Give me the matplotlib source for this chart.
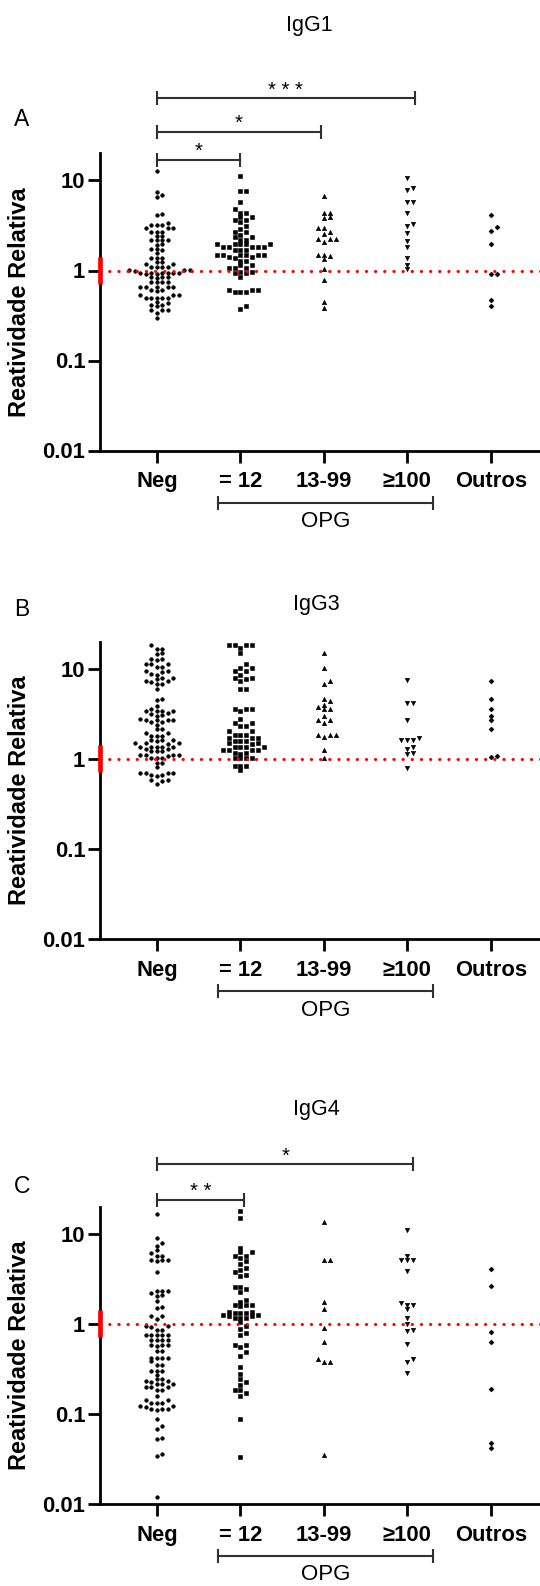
import numpy as np
import matplotlib.pyplot as plt
from matplotlib import transforms
from matplotlib.ticker import NullLocator

plt.rcParams['font.family'] = ['Liberation Sans', 'DejaVu Sans']

# categories / tick labels
categories = ['Neg', '= 12', '13-99', '≥100', 'Outros']
yticks = [0.01, 0.1, 1, 10]
ytick_labels = ['0.01', '0.1', '1', '10']

# IgG1 values
igg1_neg = [12.8, 7.4, 6.9, 6.6, 4.25, 4.1, 3.4, 3.2, 3.2, 3.2, 2.95, 2.94, 2.93,
            2.7, 2.7, 2.68, 2.44, 2.42, 2.2, 2.18, 2.17, 2.18, 1.95, 1.93, 1.72,
            1.72, 1.70, 1.55, 1.39, 1.39, 1.38, 1.25, 1.24, 1.18, 1.17, 1.10, 1.10,
            1.09, 1.10, 1.01, 1.01, 1.00, 1.01, 0.93, 0.93, 0.92, 0.93, 0.94, 0.93,
            0.92, 0.93, 0.84, 0.84, 0.83, 0.84, 0.75, 0.75, 0.74, 0.75, 0.66, 0.66,
            0.65, 0.66, 0.66, 0.60, 0.60, 0.59, 0.54, 0.54, 0.53, 0.50, 0.50, 0.49,
            0.50, 0.50, 0.45, 0.44, 0.41, 0.41, 0.40, 0.364, 0.36, 0.364, 0.334, 0.30]
igg1_12 = [11.2, 7.7, 7.6, 5.8, 4.8, 4.4, 4.4, 3.96, 3.95, 3.64, 3.62, 3.49, 3.12,
           2.87, 2.7, 2.7, 2.48, 2.38, 2.38, 2.18, 2.17, 1.97, 1.97, 1.97, 1.96,
           1.97, 1.84, 1.84, 1.84, 1.83, 1.84, 1.69, 1.69, 1.68, 1.49, 1.49, 1.49,
           1.48, 1.49, 1.49, 1.40, 1.40, 1.39, 1.28, 1.28, 1.15, 1.15, 1.06, 1.06,
           1.06, 0.97, 0.97, 0.93, 0.93, 0.85, 0.61, 0.61, 0.61, 0.57, 0.57, 0.57,
           0.40, 0.37]
igg1_1399 = [6.8, 4.4, 4.4, 3.95, 3.81, 2.94, 2.94, 2.7, 2.52, 2.26, 2.26, 2.26,
             2.09, 1.49, 1.49, 1.45, 1.33, 1.03, 0.78, 0.45, 0.38]
igg1_100 = [10.6, 8.2, 7.8, 5.8, 5.8, 4.35, 3.31, 3.1, 2.59, 2.11, 1.84, 1.39,
            1.16, 1.03]
igg1_out = [4.1, 3.02, 2.77, 1.97, 0.91, 0.91, 0.47, 0.40]

# IgG3 values
igg3_neg = [18.2, 16.8, 16.6, 14.8, 14.7, 12.7, 12.6, 12.7, 11.4, 11.4, 11.3, 10.5,
            10.5, 9.4, 9.4, 9.3, 8.65, 8.6, 7.9, 7.9, 7.8, 7.3, 7.3, 7.2, 6.7, 6.7,
            6.0, 4.56, 4.55, 3.9, 3.62, 3.44, 3.44, 3.43, 3.44, 3.19, 3.18, 3.03,
            3.02, 2.73, 2.73, 2.72, 2.73, 2.74, 2.55, 2.54, 2.4, 2.15, 2.14, 1.94,
            1.93, 1.79, 1.79, 1.78, 1.6, 1.6, 1.59, 1.6, 1.48, 1.48, 1.47, 1.48,
            1.36, 1.36, 1.35, 1.36, 1.36, 1.30, 1.30, 1.22, 1.22, 1.21, 1.09, 1.09,
            1.08, 1.09, 1.09, 1.02, 1.02, 1.01, 0.90, 0.90, 0.81, 0.70, 0.70, 0.69,
            0.70, 0.66, 0.66, 0.65, 0.58, 0.58, 0.57, 0.53]
igg3_12 = [18.6, 18.6, 18.5, 18.6, 17.1, 14.8, 11.2, 10.2, 10.2, 9.4, 9.4, 8.6,
           7.9, 7.9, 7.8, 7.3, 6.0, 6.0, 3.6, 3.6, 3.58, 3.38, 2.78, 2.51, 2.5,
           2.3, 2.3, 2.03, 2.02, 1.86, 1.86, 1.85, 1.71, 1.71, 1.70, 1.57, 1.57,
           1.56, 1.48, 1.48, 1.47, 1.36, 1.36, 1.35, 1.36, 1.25, 1.25, 1.24, 1.25,
           1.15, 1.15, 1.14, 1.03, 1.03, 1.02, 1.03, 0.84, 0.84, 0.83, 0.76]
igg3_1399 = [15.1, 10.2, 7.3, 6.8, 4.6, 4.34, 4.0, 3.78, 3.6, 3.6, 2.98, 2.73,
             2.73, 2.51, 1.86, 1.86, 1.83, 1.74, 1.24, 1.03]
igg3_100 = [7.6, 4.19, 4.19, 2.69, 1.71, 1.62, 1.6, 1.6, 1.36, 1.30, 1.17, 1.13, 0.79]
igg3_out = [7.3, 4.56, 3.62, 2.98, 2.69, 2.15, 1.04, 1.07]

# IgG4 values
igg4_neg = [16.5, 9.05, 7.8, 7.2, 6.5, 6.07, 5.7, 5.7, 5.03, 5.03, 5.0, 5.03, 3.73,
            2.32, 2.32, 2.3, 2.18, 2.06, 2.05, 1.8, 1.51, 1.5, 1.2, 1.2, 1.13, 0.93,
            0.93, 0.92, 0.855, 0.85, 0.75, 0.75, 0.74, 0.75, 0.75, 0.66, 0.66, 0.65,
            0.66, 0.58, 0.58, 0.57, 0.58, 0.50, 0.50, 0.42, 0.42, 0.41, 0.42, 0.38,
            0.35, 0.35, 0.30, 0.30, 0.30, 0.27, 0.244, 0.244, 0.228, 0.228, 0.227,
            0.213, 0.213, 0.212, 0.199, 0.199, 0.198, 0.182, 0.181, 0.155, 0.143,
            0.143, 0.131, 0.131, 0.130, 0.120, 0.120, 0.119, 0.112, 0.112, 0.111,
            0.112, 0.087, 0.072, 0.067, 0.054, 0.052, 0.036, 0.034, 0.0118]
igg4_12 = [17.7, 14.9, 6.9, 6.2, 6.2, 5.7, 5.7, 5.4, 4.9, 4.58, 4.14, 3.96, 3.73,
           3.43, 3.42, 2.52, 2.52, 2.44, 2.24, 1.84, 1.76, 1.62, 1.62, 1.61, 1.55,
           1.36, 1.36, 1.31, 1.31, 1.30, 1.25, 1.25, 1.22, 1.22, 1.15, 1.15, 1.14,
           1.04, 0.93, 0.87, 0.78, 0.74, 0.58, 0.58, 0.55, 0.48, 0.44, 0.33, 0.277,
           0.244, 0.224, 0.206, 0.184, 0.184, 0.169, 0.155, 0.088, 0.033]
igg4_1399 = [13.4, 5.07, 5.07, 1.73, 1.45, 0.89, 0.63, 0.40, 0.37, 0.37, 0.035]
igg4_100 = [11.0, 5.57, 5.1, 5.1, 5.1, 3.87, 1.69, 1.62, 1.62, 1.45, 1.15, 0.99,
            0.855, 0.83, 0.59, 0.40, 0.37, 0.28]
igg4_out = [4.06, 2.59, 0.81, 0.63, 0.187, 0.047, 0.042]

panels = [
    ('A', 'IgG1', [igg1_neg, igg1_12, igg1_1399, igg1_100, igg1_out],
     [(0, 3.09, 98, '* * *'), (0, 1.96, 131.6, '*'), (0, 1.0, 159.6, '*')]),
    ('B', 'IgG3', [igg3_neg, igg3_12, igg3_1399, igg3_100, igg3_out], []),
    ('C', 'IgG4', [igg4_neg, igg4_12, igg4_1399, igg4_100, igg4_out],
     [(0, 3.07, 1164, '*'), (0, 1.04, 1199.6, '* *')]),
]

# pixel layout of each panel: axes bottom, title baseline, letter baseline, title x
axis_bottom = [450.5, 938.8, 1503.6]
title_base = [30.7, 609.7, 1115.4]
title_x = [309, 316, 316]
letter_base = [125.7, 616.0, 1193.0]
opg_line = [503, 991, 1556]
opg_base = [527, 1016.5, 1579.7]

markers = ['o', 's', '^', 'v', 'D']
msizes = [2.6, 2.9, 3.2, 3.2, 2.5]
col_dx = [5.5, 5.9, 6.0, 6.0, 6.0]   # px between swarm columns
col_dy = [3.8, 3.8, 3.4, 3.4, 3.6]   # px min vertical gap in a column

W, H = 540, 1586
fig = plt.figure(figsize=(W / 100, H / 100), dpi=100)
xlim = (-0.683, 4.59)
ylim = (0.01, 20)
ax_left, ax_w = 100, 440
ax_h = 90 * np.log10(ylim[1] / ylim[0])


def fy(px):
    return 1 - px / H


def swarm(vals, px_dec, px_cat, dx, dy):
    y = np.log10(vals) * px_dec
    cands = [0] + [s * j for j in range(1, 40) for s in (1, -1)]
    placed = {}
    off = np.zeros(len(vals))
    for i in np.argsort(y):
        for k in cands:
            if all(abs(y[i] - yy) >= dy for yy in placed.get(k, [])):
                placed.setdefault(k, []).append(y[i])
                off[i] = k * dx / px_cat
                break
    return off


for p, (letter, title, groups, brackets) in enumerate(panels):
    bot = axis_bottom[p]
    ax = fig.add_axes([ax_left / W, fy(bot), ax_w / W, ax_h / H])
    ax.set_yscale('log')
    ax.set_xlim(*xlim)
    ax.set_ylim(*ylim)
    px_dec = ax_h / np.log10(ylim[1] / ylim[0])
    px_cat = ax_w / (xlim[1] - xlim[0])

    for g, vals in enumerate(groups):
        vals = np.array(vals)
        xs = g + swarm(vals, px_dec, px_cat, col_dx[g], col_dy[g])
        ax.plot(xs, vals, linestyle='none', marker=markers[g], markersize=msizes[g],
                color='black', markeredgewidth=0.4, zorder=3)

    ax.axhline(1, color='red', lw=2.2, linestyle=(0, (0.1, 2.9)),
               dash_capstyle='round', zorder=4)
    blend_y = transforms.blended_transform_factory(ax.transAxes, ax.transData)
    ax.plot([0, 0], [0.71, 1.41], transform=blend_y, color='red', lw=3.4,
            solid_capstyle='butt', clip_on=False, zorder=6)

    for s in ['top', 'right']:
        ax.spines[s].set_visible(False)
    for s in ['left', 'bottom']:
        ax.spines[s].set_linewidth(2.0)
    ax.set_xticks(range(len(categories)))
    ax.set_xticklabels(categories)
    ax.set_yticks(yticks)
    ax.set_yticklabels(ytick_labels)
    ax.yaxis.set_minor_locator(NullLocator())
    ax.tick_params(axis='both', length=8.6, width=2.0, labelsize=15.8)
    ax.tick_params(axis='x', pad=6.5)
    ax.tick_params(axis='y', pad=2)
    for lbl in ax.get_xticklabels() + ax.get_yticklabels():
        lbl.set_fontweight('bold')

    fig.text(20 / W, fy(bot - ax_h / 2), 'Reatividade Relativa', rotation=90,
             ha='center', va='center', fontsize=17, fontweight='bold')
    fig.text(title_x[p] / W, fy(title_base[p]), title, ha='center',
             va='baseline', fontsize=15.5)
    fig.text(22 / W, fy(letter_base[p]), letter, ha='center', va='baseline',
             fontsize=16.5)

    blend = transforms.blended_transform_factory(ax.transData, fig.transFigure)
    for x0, x1, ypx, stars in brackets:
        ax.plot([x0, x1], [fy(ypx), fy(ypx)], transform=blend, color='#303030',
                lw=1.5, marker='|', markersize=9.5, markeredgewidth=1.5,
                clip_on=False)
        ax.text((x0 + x1) / 2, fy(ypx - 8), stars, transform=blend, ha='center',
                va='center', fontsize=14.5)

    ax.plot([0.73, 3.31], [fy(opg_line[p])] * 2, transform=blend, color='#303030',
            lw=1.5, marker='|', markersize=9.5, markeredgewidth=1.5, clip_on=False)
    ax.text(2.02, fy(opg_base[p]), 'OPG', transform=blend, ha='center',
            va='baseline', fontsize=16)

fig.savefig('out.png', dpi=100)
